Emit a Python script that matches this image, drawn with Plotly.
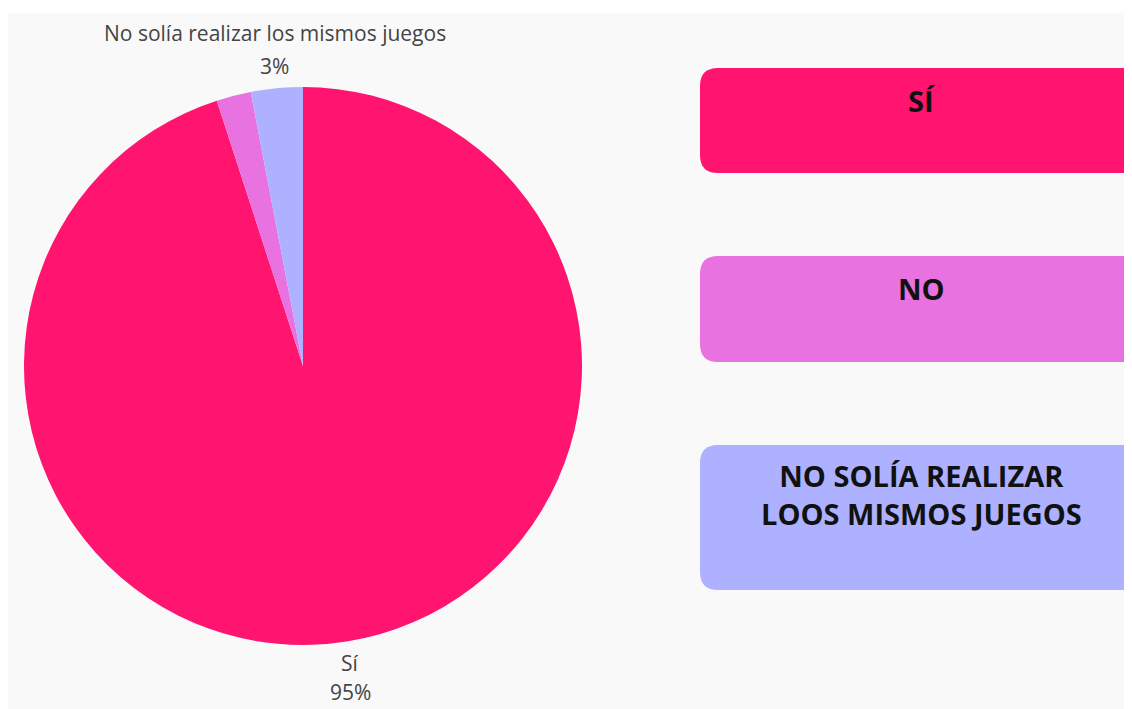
import math
import plotly.graph_objects as go

# datos de la encuesta
labels = ["Sí", "No", "No solía realizar los mismos juegos"]
values = [95, 2, 3]
show_label = [True, False, True]
colors = ["#FF1470", "#E872E0", "#ADB1FF"]

box_titles = ["SÍ", "NO", "NO SOLÍA REALIZAR<br>LOOS MISMOS JUEGOS"]
box_tops = [68, 256, 445]
box_bottoms = [173, 362, 590]
title_y = [100, 288, 494]

W, H = 1132, 709
OFF = 8  # margen del body de la página

# centro y radio de la tarta en píxeles de la captura
CX, CY, R = 303, 366, 279


def px(x):
    return (x - OFF) / W


def py(y):
    return 1 - (y - OFF) / H


def rounded_rect(x0, y0, x1, y1, r):
    """Rectángulo redondeado en coordenadas de papel."""
    pts = [
        f"M {px(x0 + r)} {py(y0)}",
        f"L {px(x1 - r)} {py(y0)}",
        f"Q {px(x1)} {py(y0)} {px(x1)} {py(y0 + r)}",
        f"L {px(x1)} {py(y1 - r)}",
        f"Q {px(x1)} {py(y1)} {px(x1 - r)} {py(y1)}",
        f"L {px(x0 + r)} {py(y1)}",
        f"Q {px(x0)} {py(y1)} {px(x0)} {py(y1 - r)}",
        f"L {px(x0)} {py(y0 + r)}",
        f"Q {px(x0)} {py(y0)} {px(x0 + r)} {py(y0)}",
        "Z",
    ]
    return " ".join(pts)


fig = go.Figure()

fig.add_trace(go.Pie(
    labels=labels,
    values=values,
    textinfo="none",
    sort=False,
    direction="clockwise",
    rotation=0,
    marker=dict(colors=colors, line=dict(width=0)),
    domain=dict(x=[px(CX - R), px(CX + R)], y=[py(CY + R), py(CY - R)]),
    showlegend=False,
    hoverinfo="label+percent",
))

# etiquetas exteriores (nombre + porcentaje) en el ángulo medio de cada porción
label_font = dict(family="Open Sans", size=21, color="#444444")
annotations = []
total = sum(values)
acc = 0
for lab, v, show in zip(labels, values, show_label):
    mid = (acc + v / 2) / total * 2 * math.pi
    acc += v
    if not show:
        continue
    pct = f"{round(v / total * 100)}%"
    r_near = R + 22
    lx = CX + r_near * math.sin(mid)
    ly = CY - r_near * math.cos(mid)
    if math.cos(mid) > 0:
        # mitad superior: el porcentaje cerca, el nombre encima
        lines = [(pct, ly), (lab, ly - 33)]
    else:
        lines = [(lab, ly), (pct, ly + 29)]
    for txt, yy in lines:
        annotations.append(dict(
            x=px(lx), y=py(yy), xref="paper", yref="paper",
            text=txt, showarrow=False, xanchor="center", yanchor="middle",
            font=label_font,
        ))

shapes = [
    dict(type="rect", xref="paper", yref="paper",
         x0=px(8), x1=1, y0=0, y1=py(13),
         fillcolor="#F9F9F9", line=dict(width=0), layer="below"),
]
for c, t, b in zip(colors, box_tops, box_bottoms):
    shapes.append(dict(
        type="path", xref="paper", yref="paper",
        path=rounded_rect(700, t, 1152, b, 18),
        fillcolor=c, line=dict(width=0), layer="below",
    ))

for txt, y in zip(box_titles, title_y):
    annotations.append(dict(
        x=px(921), y=py(y), xref="paper", yref="paper",
        text=f"<b>{txt}</b>", showarrow=False,
        xanchor="center", yanchor="middle",
        font=dict(family="Open Sans", size=29, color="#111111"),
    ))

fig.update_layout(
    width=W, height=H,
    margin=dict(l=0, r=0, t=0, b=0),
    paper_bgcolor="white",
    plot_bgcolor="white",
    shapes=shapes,
    annotations=annotations,
)

fig.write_html("out.html")
